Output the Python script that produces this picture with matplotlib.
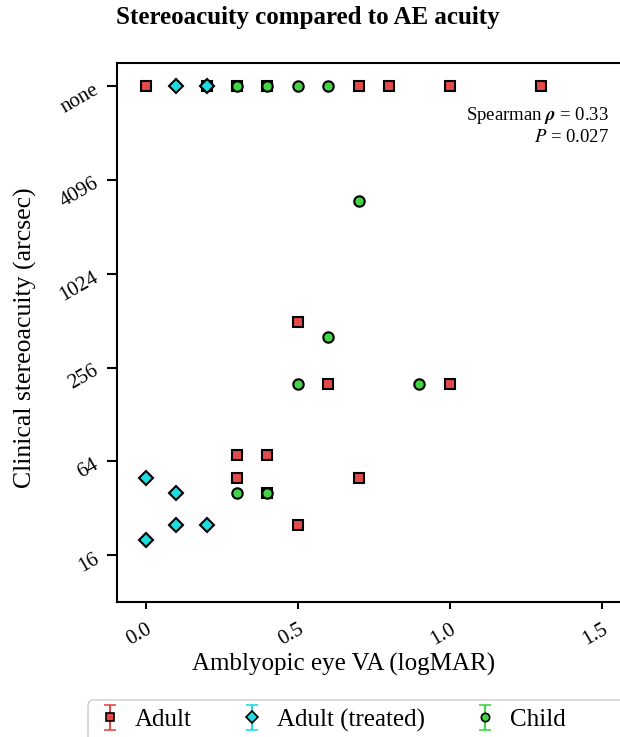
import matplotlib
matplotlib.use("Agg")
import matplotlib.pyplot as plt
from matplotlib.patches import FancyBboxPatch
import numpy as np

# "none" (no measurable stereoacuity) is drawn at the top row, 16384 arcsec
NONE = 16384

adult_va = [0.0, 0.2, 0.3, 0.4, 0.7, 0.8, 1.0, 1.3, 0.5, 0.6, 1.0, 0.3, 0.4, 0.3, 0.7, 0.4, 0.5]
adult_stereo = [NONE, NONE, NONE, NONE, NONE, NONE, NONE, NONE, 500, 200, 200, 70, 70, 50, 50, 40, 25]

treated_va = [0.1, 0.2, 0.0, 0.1, 0.1, 0.2, 0.0]
treated_stereo = [NONE, NONE, 50, 40, 25, 25, 20]

child_va = [0.3, 0.4, 0.5, 0.6, 0.7, 0.6, 0.5, 0.9, 0.3, 0.4]
child_stereo = [NONE, NONE, NONE, NONE, 3000, 400, 200, 200, 40, 40]

y_ticks = [16, 64, 256, 1024, 4096, NONE]
y_ticklabels = ["16", "64", "256", "1024", "4096", "none"]
x_ticks = [0.0, 0.5, 1.0, 1.5]

groups = [
    ("Adult", adult_va, adult_stereo, "s", "#E34B4B"),
    ("Adult (treated)", treated_va, treated_stereo, "D", "#1FDCE0"),
    ("Child", child_va, child_stereo, "o", "#45D445"),
]

plt.rcParams.update({
    "font.family": "Liberation Serif",
    "mathtext.fontset": "stix",
})

fig = plt.figure(figsize=(6.2, 7.37), dpi=100)
ax = fig.add_axes([117 / 620, 1 - 602 / 737, 515 / 620, 539 / 737])

handles = []
for name, xs, ys, marker, color in groups:
    ax.plot(xs, ys, linestyle="none", marker=marker, markersize=7.5 if marker != "D" else 7,
            markerfacecolor=color, markeredgecolor="black", markeredgewidth=1.5, zorder=3)
    # legend handle drawn like an errorbar point
    h = ax.errorbar([np.nan], [np.nan], yerr=[1], fmt=marker, markersize=6,
                    markerfacecolor=color, markeredgecolor="black", markeredgewidth=1.2,
                    ecolor=color, elinewidth=1.5, capsize=4, capthick=1.5, label=name)
    handles.append(h)

ax.set_yscale("log", base=2)
ax.set_ylim(8, NONE * np.sqrt(2))
ax.set_xlim(-0.095, 1.6)
ax.set_yticks(y_ticks)
ax.set_yticklabels(y_ticklabels)
ax.minorticks_off()
ax.set_xticks(x_ticks)
ax.set_xticklabels(["0.0", "0.5", "1.0", "1.5"])

for lbl in ax.get_yticklabels():
    lbl.set_rotation(30)
    lbl.set_ha("right")
    lbl.set_rotation_mode("anchor")
for lbl in ax.get_xticklabels():
    lbl.set_rotation(30)
    lbl.set_ha("right")
    lbl.set_rotation_mode("anchor")

ax.tick_params(axis="y", length=7, width=1.5, labelsize=15, pad=8)
ax.tick_params(axis="x", length=5, width=1.5, labelsize=15, pad=8)
for sp in ax.spines.values():
    sp.set_linewidth(1.5)

ax.set_xlabel("Amblyopic eye VA (logMAR)", fontsize=18)
ax.set_ylabel("Clinical stereoacuity (arcsec)", fontsize=18.5)
ax.xaxis.set_label_coords(0.44, -0.095)
ax.yaxis.set_label_coords(-0.155, 0.49)

fig.text(609 / 620, 1 - 115 / 737, r"Spearman $\boldsymbol{\rho}$ = 0.33",
         ha="right", va="center", fontsize=13.5)
fig.text(609 / 620, 1 - 137 / 737, r"$P$ = 0.027",
         ha="right", va="center", fontsize=13.5)

fig.suptitle("Stereoacuity compared to AE acuity", x=0.497, y=1 - 6 / 737,
             va="top", fontsize=18, fontweight="bold")

# legend box runs off the right and bottom edges in the reference
box = FancyBboxPatch((88 / 620, 1 - 760 / 737), 600 / 620, 60 / 737,
                     boxstyle="round,pad=0,rounding_size=0.008",
                     transform=fig.transFigure, facecolor="white",
                     edgecolor="#cccccc", linewidth=1.0)
fig.patches.append(box)
fig.legend(handles=handles, loc="center left",
           bbox_to_anchor=(95 / 620, 1 - 720 / 737), ncol=3, fontsize=18,
           frameon=False, handlelength=1.2, handletextpad=0.4,
           columnspacing=1.8, borderpad=0, borderaxespad=0)

plt.savefig("out.png", dpi=100)
plt.close()
